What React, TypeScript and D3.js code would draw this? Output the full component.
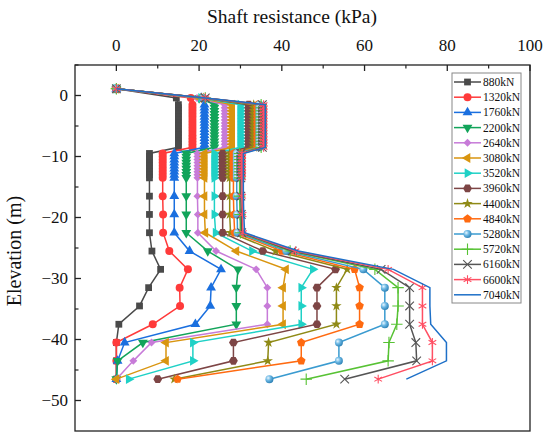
import React from 'react';
import * as d3 from 'd3';

// load cases (legend)
const loads = ['880kN', '1320kN', '1760kN', '2200kN', '2640kN', '3080kN', '3520kN', '3960kN',
  '4400kN', '4840kN', '5280kN', '5720kN', '6160kN', '6600kN', '7040kN'];

// elevations (m) of the gauge points
const elevSurface = [1.1, -0.4];
const elevUpper = [-1.5, -2, -2.5, -3, -3.5, -4, -4.5, -5, -5.5, -6, -6.5, -7, -7.5, -8, -8.5];
const elevLower = [-9.5, -10, -10.5, -11, -11.5, -12, -12.5, -13, -13.5];
const elevDeep = [-16.5, -19.5, -22.5, -25.5, -28.5, -31.5, -34.5, -37.5, -40.5, -43.5, -46.5];

// shaft resistance (kPa) per load case
const surfaceVals = [14.5, 18.0, 20.5, 20.0, 19.5, 20.0, 20.5, 21.0, 21.0, 21.0, 21.0, 21.5, 21.5, 21.5, 21.5];
const upperVals = [15.0, 18.4, 21.3, 23.7, 26.2, 28.0, 30.0, 32.0, 33.2, 34.1, 34.6, 35.0, 35.3, 35.6, 36.0];
const lowerVals = [8.0, 11.2, 14.0, 16.9, 19.6, 21.3, 23.7, 25.7, 27.4, 28.3, 29.1, 29.8, 30.1, 30.4, 30.7];
const deepVals = [
  [8.0, 8.0, 8.0, 8.6, 10.7, 7.8, 5.6, 0.6, 0, 0, 0],
  [11.2, 11.3, 11.3, 12.8, 17.3, 15.3, 15.4, 8.8, 0, 0, 0],
  [14.0, 14.0, 14.0, 17.7, 25.3, 22.9, 22.7, 19.1, 2.0, 0.3, 0],
  [16.9, 16.9, 16.9, 22.1, 29.4, 29.0, 29.0, 29.0, 6.4, 0.3, 0],
  [19.6, 19.7, 19.7, 24.1, 33.8, 36.5, 36.5, 36.5, 8.5, 4.1, 0],
  [21.3, 21.3, 21.5, 29.0, 41.0, 40.3, 40.3, 40.3, 12.0, 12.0, 0],
  [23.7, 23.7, 24.0, 32.8, 47.5, 44.7, 44.7, 44.7, 18.5, 18.5, 3.0],
  [25.7, 25.7, 25.7, 35.4, 53.0, 48.5, 48.5, 48.5, 28.3, 28.3, 10.0],
  [27.4, 27.4, 27.6, 38.5, 55.8, 53.2, 53.2, 53.2, 36.8, 36.6, 14.0],
  [28.3, 28.4, 28.6, 40.0, 57.6, 58.8, 58.8, 58.8, 44.7, 44.7, 14.8],
  [29.1, 29.2, 29.3, 41.1, 59.7, 64.9, 64.9, 64.9, 53.8, 53.8, 37.0],
  [29.8, 29.9, 30.0, 42.0, 62.5, 68.1, 68.1, 67.8, 65.9, 65.7, 45.9],
  [30.1, 30.2, 30.3, 42.5, 64.0, 70.9, 70.9, 70.9, 72.4, 72.6, 55.2],
  [30.4, 30.5, 30.6, 43.3, 65.7, 74.0, 74.0, 74.0, 76.4, 76.4, 63.3],
  [30.7, 30.8, 31.0, 44.0, 67.0, 75.8, 75.8, 76.0, 79.8, 79.8, 70.1],
];

const xTicks = [0, 20, 40, 60, 80, 100];
const xMinor = [10, 30, 50, 70, 90];
const yTicks = [0, -10, -20, -30, -40, -50];
const yMinor = [5, -5, -15, -25, -35, -45];

const colors = ['#4a4a4a', '#ff3a3a', '#1a6fdf', '#12a45a', '#c77bd8', '#d9950f', '#1fd1c6', '#7d4545',
  '#8f8a16', '#ff6a10', '#3a9bd0', '#57c234', '#555555', '#ff4f63', '#1e70c8'];

const polygon = (n: number, r: number, rot: number) => {
  const pts = d3.range(n).map(k => {
    const a = rot + (k * 2 * Math.PI) / n;
    return [r * Math.cos(a), r * Math.sin(a)];
  });
  return 'M' + pts.map(p => p.join(',')).join('L') + 'Z';
};

// marker: path, rotation, filled or stroked
const markers: { d: string; rot: number; fill: boolean }[] = [
  { d: d3.symbol(d3.symbolSquare, 46)(), rot: 0, fill: true },
  { d: d3.symbol(d3.symbolCircle, 50)(), rot: 0, fill: true },
  { d: d3.symbol(d3.symbolTriangle, 42)(), rot: 0, fill: true },
  { d: d3.symbol(d3.symbolTriangle, 42)(), rot: 180, fill: true },
  { d: d3.symbol(d3.symbolDiamond2, 40)(), rot: 0, fill: true },
  { d: d3.symbol(d3.symbolTriangle, 42)(), rot: -90, fill: true },
  { d: d3.symbol(d3.symbolTriangle, 42)(), rot: 90, fill: true },
  { d: polygon(6, 4.4, 0), rot: 0, fill: true },
  { d: d3.symbol(d3.symbolStar, 34)(), rot: 0, fill: true },
  { d: polygon(5, 4.5, -Math.PI / 2), rot: 0, fill: true },
  { d: d3.symbol(d3.symbolCircle, 50)(), rot: 0, fill: true },
  { d: d3.symbol(d3.symbolPlus, 45)(), rot: 0, fill: false },
  { d: d3.symbol(d3.symbolTimes, 50)(), rot: 0, fill: false },
  { d: d3.symbol(d3.symbolAsterisk, 55)(), rot: 0, fill: false },
  { d: '', rot: 0, fill: true },
];

const xScale = d3.scaleLinear().domain([-10, 100]).range([75, 530]);
const yScale = d3.scaleLinear().domain([5, -55]).range([65, 431]);

type Pt = { x: number; y: number };

const buildSeries = (i: number): Pt[] => {
  const pts: Pt[] = [
    { x: 0, y: elevSurface[0] },
    { x: surfaceVals[i], y: elevSurface[1] },
  ];
  elevUpper.forEach(e => pts.push({ x: upperVals[i], y: e }));
  elevLower.forEach(e => pts.push({ x: lowerVals[i], y: e }));
  elevDeep.forEach((e, k) => pts.push({ x: deepVals[i][k], y: e }));
  return pts;
};

const line = d3.line<Pt>().x(d => xScale(d.x)).y(d => yScale(d.y));

const Marker: React.FC<{ i: number; x: number; y: number }> = ({ i, x, y }) => {
  const m = markers[i];
  if (!m.d) return null;
  const fill = i === 10 ? 'url(#sphere)' : m.fill ? colors[i] : 'none';
  return (
    <path
      d={m.d}
      transform={`translate(${x},${y}) rotate(${m.rot})`}
      fill={fill}
      stroke={m.fill ? 'none' : colors[i]}
      strokeWidth={m.fill ? 0 : 1.1}
    />
  );
};

export default function App() {
  const series = loads.map((_, i) => buildSeries(i));
  const serif = '"Liberation Serif", "Times New Roman", serif';
  const [x0, x1] = xScale.range();
  const [y0, y1] = yScale.range();

  return (
    <svg width={550} height={439} style={{ position: 'absolute', left: 0, top: 0, background: '#fff' }}>
      <defs>
        <radialGradient id="sphere" cx="0.35" cy="0.35" r="0.7">
          <stop offset="0%" stopColor="#e8f6ff" />
          <stop offset="45%" stopColor="#6cb8e4" />
          <stop offset="100%" stopColor="#2a7fb4" />
        </radialGradient>
      </defs>

      {/* title */}
      <text x={292} y={23} textAnchor="middle" fontFamily={serif} fontSize={19.5} fill="#111">
        Shaft  resistance (kPa)
      </text>
      <text
        transform="translate(21,251) rotate(-90)"
        textAnchor="middle"
        fontFamily={serif}
        fontSize={20}
        fill="#111"
      >
        Elevation (m)
      </text>

      {/* series */}
      {series.map((pts, i) => (
        <g key={loads[i]}>
          <path d={line(pts) || ''} fill="none" stroke={colors[i]} strokeWidth={1.5} />
          {pts.map((p, k) => (
            <Marker key={k} i={i} x={xScale(p.x)} y={yScale(p.y)} />
          ))}
        </g>
      ))}

      {/* frame */}
      <rect x={x0} y={y0} width={x1 - x0} height={y1 - y0} fill="none" stroke="#222" strokeWidth={1.3} />

      {/* top axis */}
      {xTicks.map(t => (
        <g key={'xt' + t}>
          <line x1={xScale(t)} x2={xScale(t)} y1={y0} y2={y0 + 6} stroke="#222" strokeWidth={1.3} />
          <text x={xScale(t)} y={51} textAnchor="middle" fontFamily={serif} fontSize={17} fill="#111">
            {t}
          </text>
        </g>
      ))}
      {xMinor.map(t => (
        <line key={'xm' + t} x1={xScale(t)} x2={xScale(t)} y1={y0} y2={y0 + 3.5} stroke="#222" strokeWidth={1.2} />
      ))}

      {/* left axis */}
      {yTicks.map(t => (
        <g key={'yt' + t}>
          <line x1={x0} x2={x0 + 6} y1={yScale(t)} y2={yScale(t)} stroke="#222" strokeWidth={1.3} />
          <text x={68} y={yScale(t) + 5.5} textAnchor="end" fontFamily={serif} fontSize={17} fill="#111">
            {t < 0 ? '\u2212' + Math.abs(t) : t}
          </text>
        </g>
      ))}
      {yMinor.map(t => (
        <line key={'ym' + t} x1={x0} x2={x0 + 3.5} y1={yScale(t)} y2={yScale(t)} stroke="#222" strokeWidth={1.2} />
      ))}

      {/* legend */}
      <rect x={452} y={73} width={69} height={230} fill="#fff" stroke="#888" strokeWidth={1} />
      {loads.map((name, i) => {
        const ly = 82 + i * 15.2;
        return (
          <g key={'lg' + name}>
            <line x1={454} x2={481} y1={ly} y2={ly} stroke={colors[i]} strokeWidth={1.5} />
            <Marker i={i} x={467.5} y={ly} />
            <text x={483} y={ly + 3.9} fontFamily={serif} fontSize={11.5} fill="#111">
              {name}
            </text>
          </g>
        );
      })}
    </svg>
  );
}
